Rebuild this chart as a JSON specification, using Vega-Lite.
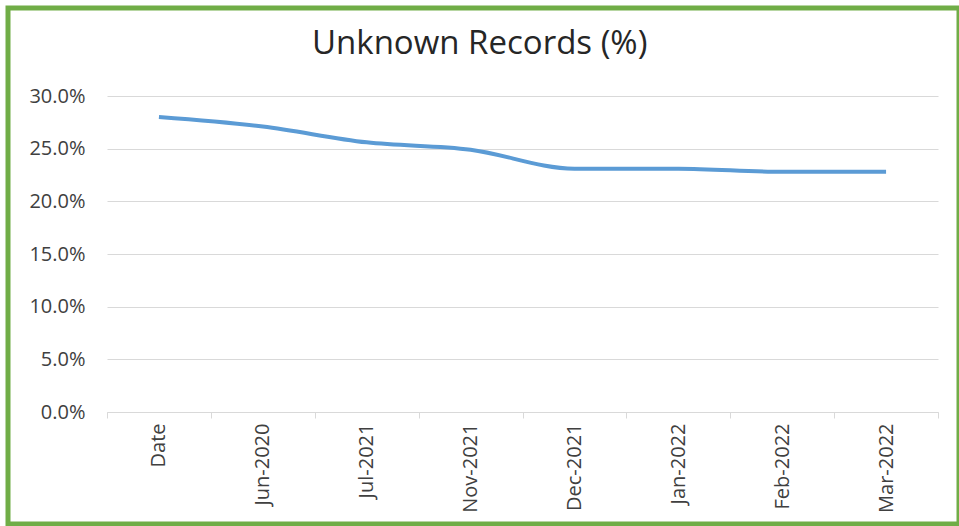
{
  "$schema": "https://vega.github.io/schema/vega-lite/v6.json",
  "autosize": {"type": "none"},
  "padding": {"left": 8, "top": 8, "right": 0, "bottom": 2},
  "width": 951,
  "height": 516,
  "background": "white",
  "view": {"stroke": "#70ad47", "strokeWidth": 5, "fill": "white"},
  "title": {
    "text": "Unknown Records (%)",
    "frame": "group",
    "anchor": "start",
    "offset": -49,
    "dy": 30,
    "baseline": "alphabetic",
    "dx": 304,
    "font": "Open Sans",
    "fontSize": 33,
    "fontWeight": "normal",
    "color": "#262626"
  },
  "data": {
    "values": [
      {"period": "Date", "unknown_share": 0.280},
      {"period": "Jun-2020", "unknown_share": 0.271},
      {"period": "Jul-2021", "unknown_share": 0.256},
      {"period": "Nov-2021", "unknown_share": 0.249},
      {"period": "Dec-2021", "unknown_share": 0.231},
      {"period": "Jan-2022", "unknown_share": 0.231},
      {"period": "Feb-2022", "unknown_share": 0.228},
      {"period": "Mar-2022", "unknown_share": 0.228}
    ]
  },
  "mark": {"type": "line", "interpolate": "monotone", "color": "#5b9bd5", "strokeWidth": 4},
  "encoding": {
    "x": {
      "field": "period",
      "type": "ordinal",
      "sort": null,
      "scale": {"type": "band", "range": [99, 930], "paddingInner": 0, "paddingOuter": 0},
      "axis": {
        "title": null,
        "orient": "bottom",
        "offset": -112,
        "labelAngle": -90,
        "labelAlign": "right",
        "labelBaseline": "middle",
        "labelFont": "Open Sans",
        "labelFontSize": 20,
        "labelColor": "#404040",
        "labelPadding": 5,
        "tickSize": 6,
        "tickColor": "#d9d9d9",
        "domainColor": "#d9d9d9",
        "grid": false,
        "tickBand": "extent"
      }
    },
    "y": {
      "field": "unknown_share",
      "type": "quantitative",
      "scale": {"domain": [0, 0.3], "range": [404, 88], "nice": false},
      "axis": {
        "title": null,
        "offset": -99,
        "domain": false,
        "ticks": false,
        "labelPadding": 22,
        "format": ".1%",
        "values": [0, 0.05, 0.1, 0.15, 0.2, 0.25, 0.3],
        "grid": true,
        "gridColor": "#d9d9d9",
        "gridWidth": 1,
        "labelFont": "Open Sans",
        "labelFontSize": 20,
        "labelColor": "#404040",
        "encode": {"grid": {"update": {"x": {"value": 0}, "x2": {"value": 831}}}}
      }
    }
  }
}
